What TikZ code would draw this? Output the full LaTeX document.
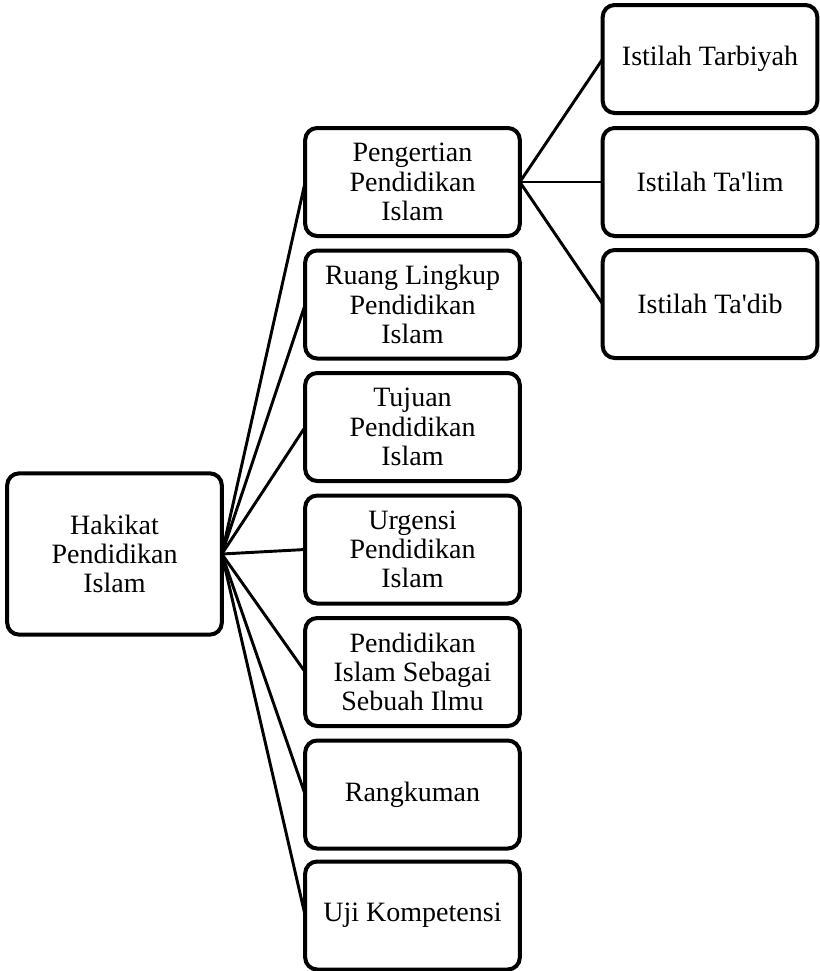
\documentclass[tikz,border=0pt]{standalone}
\usepackage{fontspec}
\setmainfont{Liberation Serif}
\begin{document}
\begin{tikzpicture}[x=0.75pt,y=-0.75pt,
  box/.style={draw=black,line width=3pt,rounded corners=9pt,align=center,
    font=\fontsize{21}{22}\selectfont,inner sep=0pt,outer sep=0pt},
  midbox/.style={box,minimum width=161pt,minimum height=81pt},
  rootbox/.style={box,minimum width=161pt,minimum height=121pt},
  link/.style={draw=black,line width=2.2pt}]
\useasboundingbox (0,0) rectangle (820,971);
\node[rootbox] (root) at (114.5,554) {Hakikat\\Pendidikan\\Islam};
\node[midbox] (m1) at (412.5,182) {Pengertian\\Pendidikan\\Islam};
\node[midbox] (m2) at (412.5,304.5) {Ruang Lingkup\\Pendidikan\\Islam};
\node[midbox] (m3) at (412.5,427) {Tujuan\\Pendidikan\\Islam};
\node[midbox] (m4) at (412.5,549.5) {Urgensi\\Pendidikan\\Islam};
\node[midbox] (m5) at (412.5,672) {Pendidikan\\Islam Sebagai\\Sebuah Ilmu};
\node[midbox] (m6) at (412.5,794.5) {Rangkuman};
\node[midbox] (m7) at (412.5,915.5) {Uji Kompetensi};
\node[midbox] (r1) at (710,59) {Istilah Tarbiyah};
\node[midbox] (r2) at (710,182) {Istilah Ta\textquotesingle lim};
\node[midbox] (r3) at (710,304) {Istilah Ta\textquotesingle dib};
\foreach \m in {m1,m2,m3,m4,m5,m6,m7}
  \draw[link] (root.east) -- (\m.west);
\foreach \r in {r1,r2,r3}
  \draw[link] (m1.east) -- (\r.west);
\end{tikzpicture}
\end{document}
